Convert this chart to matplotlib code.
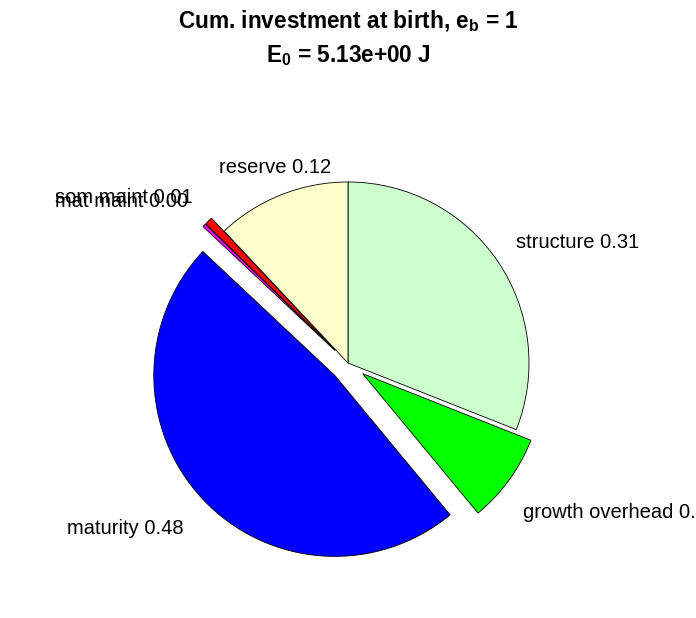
import matplotlib
matplotlib.use("Agg")
import matplotlib.pyplot as plt
import matplotlib.transforms as mtransforms

plt.rcParams['font.family'] = ['Liberation Sans', 'DejaVu Sans']
plt.rcParams['mathtext.fontset'] = 'custom'
plt.rcParams['mathtext.rm'] = 'Liberation Sans'
plt.rcParams['mathtext.bf'] = 'Liberation Sans:bold'

# cumulative investment fractions at birth (clockwise from top)
names = ["structure", "growth overhead", "maturity", "mat maint", "som maint", "reserve"]
fractions = [0.31, 0.08, 0.48, 0.003, 0.007, 0.12]
exploded = [0, 1, 1, 1, 1, 0]
colors = ["#CCFFCC", "#00FF00", "#0000FF", "#FF00FF", "#FF0000", "#FFFFCC"]

# label alignment and small nudges (pixels) to mimic matlab placement
label_ha = ["left", "left", "center", "right", "right", "center"]
nudge = [(-12, -2), (-15, -11), (-51, -4), (10, -1), (9, -2), (7, -6)]

labels = [f"{n} {v:.2f}" for n, v in zip(names, fractions)]

fig = plt.figure(figsize=(6.96, 6.18), dpi=100)
# 1 data unit = 181 px, pie centre at (348, 363) px from top-left
r_px = 181
ax = fig.add_axes([(348 - 1.5 * r_px) / 696, (255 - 1.35 * r_px) / 618,
                   3 * r_px / 696, 2.7 * r_px / 618])

wedges, texts = ax.pie(fractions, labels=labels, colors=colors,
                       explode=[0.1 * e for e in exploded],
                       startangle=90, counterclock=False,
                       labeldistance=1.2, normalize=True,
                       wedgeprops=dict(edgecolor="black", linewidth=0.6),
                       textprops=dict(fontsize=14.5))
for t, ha, (dx, dy) in zip(texts, label_ha, nudge):
    t.set_ha(ha)
    t.set_transform(mtransforms.offset_copy(t.get_transform(), fig=fig,
                                            x=dx, y=dy, units='dots'))

ax.set_xlim(-1.5, 1.5)
ax.set_ylim(-1.35, 1.35)
ax.set_aspect('auto')
ax.axis('off')

fig.text(0.5, 1 - 28 / 618, r"Cum. investment at birth, e$_{\mathbf{b}}$ = 1",
         ha='center', va='baseline', fontsize=16.3, fontweight='bold')
fig.text(0.5, 1 - 62 / 618, r"E$_{\mathbf{0}}$ = 5.13e+00 J",
         ha='center', va='baseline', fontsize=16.3, fontweight='bold')

fig.savefig("out.png", dpi=100)
